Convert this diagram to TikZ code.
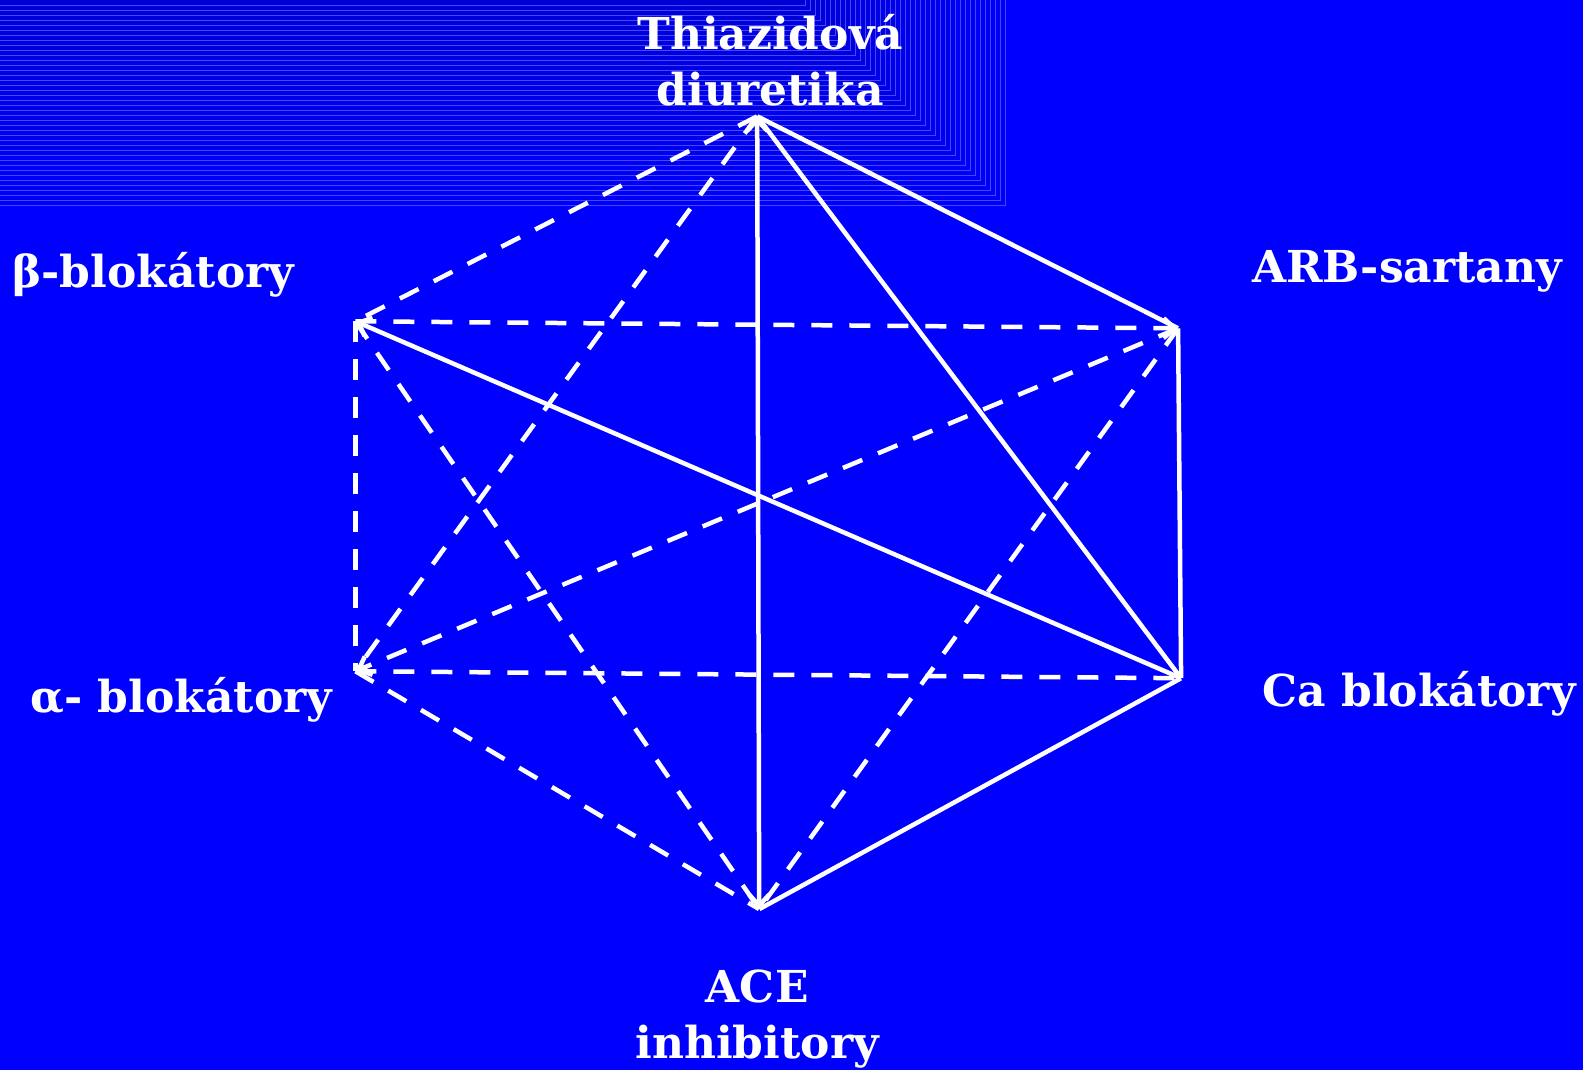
\documentclass[tikz,border=0pt]{standalone}
\usepackage{fontspec}
\setmainfont{DejaVu Serif}
\usetikzlibrary{arrows.meta,positioning}
\definecolor{slideblue}{RGB}{0,0,255}
\definecolor{stripe}{RGB}{70,70,255}

\begin{document}
\begin{tikzpicture}[x=1pt,y=-1pt, >={Straight Barb[length=11pt,width=20pt]},
 vtx/.style={inner sep=0pt,minimum size=0pt},
 edge/.style={white,line width=4.5pt},
 dedge/.style={edge,dash pattern=on 21pt off 17pt},
 lbl/.style={text=white,font=\bfseries\fontsize{44}{56}\selectfont,align=center,inner sep=0pt}]
% background with the stepped corner
\fill[slideblue] (0,0) rectangle (1583,1070);
\foreach \i in {0,...,40}{
  \pgfmathsetmacro\shade{98-0.35*\i}
  \fill[blue!\shade!black] (0,0) rectangle (1005-5*\i,205-5*\i);
  \draw[stripe,line width=0.7pt] (0,205-5*\i) -| (1005-5*\i,0);
}
% corners of the hexagon
\node[vtx] (t) at (757,116) {};
\node[vtx] (b) at (355,321) {};
\node[vtx] (r) at (1178,328) {};
\node[vtx] (a) at (355,671) {};
\node[vtx] (c) at (1181,678) {};
\node[vtx] (e) at (759,909) {};
% names
\node[lbl] (tl) at (770,60) {Thiazidová\\diuretika};
\node[lbl] (bl) at (153,275) {β-blokátory};
\node[lbl] (rl) at (1407,271) {ARB-sartany};
\node[lbl] (al) at (181,700) {α- blokátory};
\node[lbl] (cl) at (1419,694) {Ca blokátory};
\node[lbl] (el) at (757,1019) {ACE\\inhibitory};
% solid links
\draw[edge,<->] (e) -- (t);
\draw[edge] (t) -- (c);
\draw[edge] (t) -- (r);
\draw[edge] (r) -- (c);
\draw[edge] (c) -- (e);
\draw[edge,->] (c) -- (b);
% dashed links
\draw[dedge] (t) -- (b);
\draw[dedge] (t) -- (a);
\draw[dedge,->] (b) -- (r);
\draw[dedge] (b) -- (a);
\draw[dedge] (b) -- (e);
\draw[dedge,->] (r) -- (a);
\draw[dedge] (r) -- (e);
\draw[dedge] (a) -- (c);
\draw[dedge] (a) -- (e);
\end{tikzpicture}
\end{document}
